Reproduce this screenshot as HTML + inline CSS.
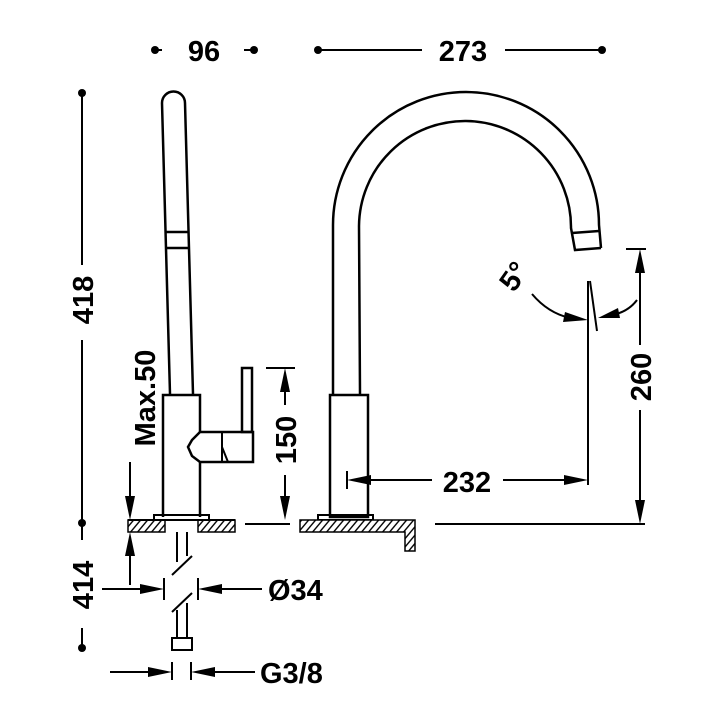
<!DOCTYPE html>
<html><head><style>html,body{margin:0;padding:0;background:#fff}svg{display:block}
text{font-family:"Liberation Sans",sans-serif;font-weight:bold;fill:#000}</style></head>
<body>
<svg width="720" height="720" viewBox="0 0 720 720" xmlns="http://www.w3.org/2000/svg">
<defs>
<pattern id="h" width="7" height="12" patternUnits="userSpaceOnUse" patternTransform="skewX(-40)">
<rect width="7" height="12" fill="#fff"/><line x1="3" y1="0" x2="3" y2="12" stroke="#000" stroke-width="1.8"/></pattern>
</defs>
<g stroke="#000" stroke-width="2" fill="none">
<line x1="155" y1="50" x2="162" y2="50"/><line x1="244" y1="50" x2="254" y2="50"/>
<line x1="318" y1="50" x2="422" y2="50"/><line x1="505" y1="50" x2="602" y2="50"/>
<line x1="82" y1="93" x2="82" y2="265"/><line x1="82" y1="340" x2="82" y2="540"/>
<line x1="82" y1="628" x2="82" y2="648"/>
<path d="M170 394 L162 103 A11.5 11.5 0 0 1 185 103 L193 394" stroke-width="2.5"/>
<line x1="166" y1="232" x2="188" y2="232" stroke-width="2.5"/>
<line x1="166" y1="248" x2="188" y2="248" stroke-width="2.5"/>
<path d="M163 517 L163 395 L200 395 L200 432 M200 462 L200 517" stroke-width="2.5"/>
<path d="M200 432 L253 432 L253 462 L200 462 L192 456 L188 447 L192 440 Z" stroke-width="2.5"/>
<path d="M222 432 L222 462 M222 447 L228 462" stroke-width="2"/>
<rect x="242" y="368" width="10" height="64" stroke-width="2.5"/>
<rect x="154" y="515" width="55" height="5" stroke-width="2"/>
<rect x="128" y="520" width="37" height="12" fill="url(#h)" stroke-width="1.5"/>
<rect x="198" y="520" width="37" height="12" fill="url(#h)" stroke-width="1.5"/>
<line x1="128" y1="520" x2="235" y2="520"/>
<line x1="245" y1="524" x2="290" y2="524"/>
<path d="M177 532 L177 562 M187 532 L187 556" stroke-width="2"/>
<path d="M172 575 L192 556" stroke-width="2"/>
<path d="M172 612 L192 593" stroke-width="2"/>
<path d="M177 610 L177 638 M187 603 L187 638" stroke-width="2"/>
<rect x="172" y="638" width="20" height="12" stroke-width="2"/>
<line x1="164" y1="578" x2="164" y2="600"/><line x1="198" y1="578" x2="198" y2="600"/>
<line x1="102" y1="589" x2="150" y2="589"/><line x1="212" y1="589" x2="262" y2="589"/>
<line x1="172" y1="662" x2="172" y2="680"/><line x1="191" y1="662" x2="191" y2="680"/>
<line x1="110" y1="672" x2="160" y2="672"/><line x1="203" y1="672" x2="255" y2="672"/>
<line x1="130" y1="462" x2="130" y2="500"/><line x1="130" y1="552" x2="130" y2="585"/>
<line x1="266" y1="368" x2="295" y2="368"/>
<line x1="285" y1="388" x2="285" y2="405"/><line x1="285" y1="475" x2="285" y2="505"/>
<path d="M333 394 L333 225 A133 133 0 0 1 599 225 L601 248" stroke-width="2.5"/>
<path d="M360 394 L359 226 A106 106 0 0 1 571 228 L575 250 L601 248" stroke-width="2.5"/>
<line x1="572" y1="233" x2="599" y2="231" stroke-width="2.5"/>
<rect x="330" y="395" width="38" height="122" stroke-width="2.5"/>
<rect x="318" y="515" width="55" height="5" stroke-width="2"/>
<path d="M300 520 L415 520 L415 551 L405 551 L405 532 L300 532 Z" fill="url(#h)" stroke-width="1.5"/>
<line x1="435" y1="524" x2="645" y2="524"/>
<line x1="347" y1="471" x2="347" y2="489"/>
<line x1="360" y1="480" x2="432" y2="480"/><line x1="503" y1="480" x2="575" y2="480"/>
<line x1="588" y1="281" x2="588" y2="485"/>
<line x1="590" y1="281" x2="597" y2="331"/>
<path d="M532 294 Q548 313 570 318"/>
<path d="M637 300 Q628 312 612 315"/>
<line x1="626" y1="249" x2="646" y2="249"/>
<line x1="640" y1="265" x2="640" y2="345"/><line x1="640" y1="410" x2="640" y2="505"/>
</g>
<g fill="#000">
<circle cx="155" cy="50" r="4"/><circle cx="254" cy="50" r="4"/>
<circle cx="318" cy="50" r="4"/><circle cx="602" cy="50" r="4"/>
<circle cx="82" cy="93" r="4"/><circle cx="82" cy="523" r="4"/><circle cx="82" cy="648" r="4"/>
<polygon points="164,589 140,584 140,594"/><polygon points="198,589 222,584 222,594"/>
<polygon points="172,672 148,667 148,677"/><polygon points="191,672 215,667 215,677"/>
<polygon points="130,520 125,496 135,496"/><polygon points="130,532 125,556 135,556"/>
<polygon points="285,368 280,392 290,392"/><polygon points="285,520 280,496 290,496"/>
<polygon points="347,480 371,475 371,485"/><polygon points="588,480 564,475 564,485"/>
<polygon points="640,249 635,273 645,273"/><polygon points="640,524 635,500 645,500"/>
<polygon points="588,320 565,312 563,322"/><polygon points="598,318 618,308 620,318"/>
</g>
<text x="204" y="61" font-size="29" text-anchor="middle">96</text>
<text x="463" y="61" font-size="29" text-anchor="middle">273</text>
<text x="467" y="492" font-size="29" text-anchor="middle">232</text>
<text x="268" y="600" font-size="29">Ø34</text>
<text x="260" y="683" font-size="29">G3/8</text>
<text transform="translate(93,300) rotate(-90)" font-size="29" text-anchor="middle">418</text>
<text transform="translate(93,585) rotate(-90)" font-size="29" text-anchor="middle">414</text>
<text transform="translate(155,398) rotate(-90)" font-size="29" text-anchor="middle">Max.50</text>
<text transform="translate(296,440) rotate(-90)" font-size="29" text-anchor="middle">150</text>
<text transform="translate(651,377) rotate(-90)" font-size="29" text-anchor="middle">260</text>
<text transform="translate(522,282) rotate(-55)" font-size="29" text-anchor="middle">5°</text>
</svg>
</body></html>
